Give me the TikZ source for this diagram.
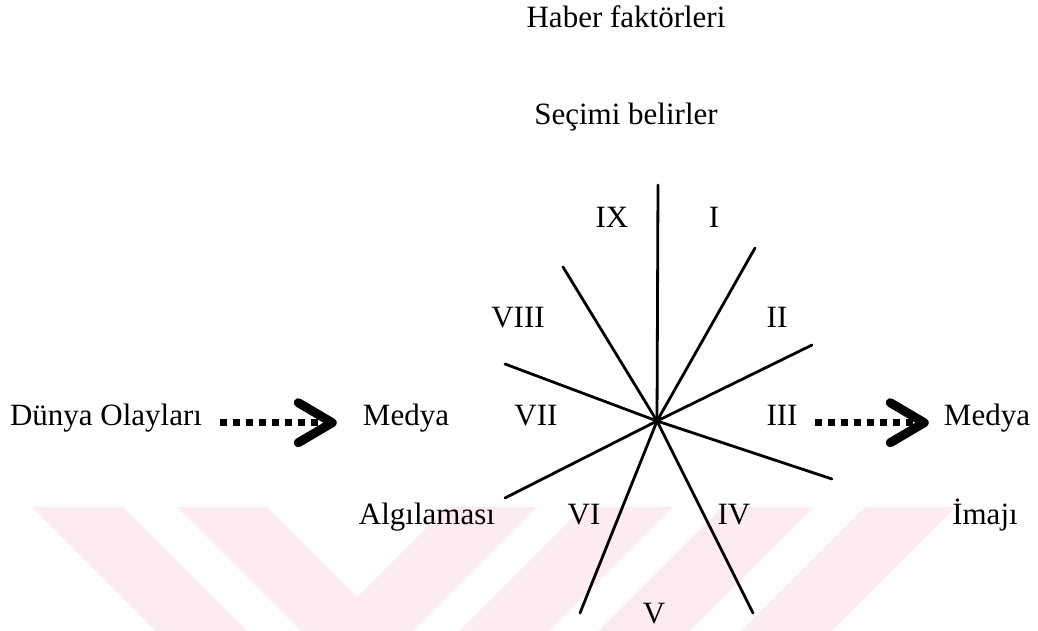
\documentclass[tikz,border=0pt]{standalone}
\usepackage{fontspec}
\setmainfont{Liberation Serif}
\usepackage{tikz}
\usetikzlibrary{arrows.meta}
\definecolor{wmpink}{RGB}{252,236,240}

\begin{document}
\begin{tikzpicture}[x=1pt, y=-1pt,
	lbl/.style={anchor=base, inner sep=0pt, font=\fontsize{31}{36}\selectfont},
	spoke/.style={line width=2.8pt, line cap=round},
	dots/.style={line width=7pt, dash pattern=on 7pt off 6pt,
		-{Straight Barb[length=34pt, width=40pt, line width=9pt, round]}}]
	\useasboundingbox (0,0) rectangle (1038,631);
	% pale stripes at the foot of the page
	\fill[wmpink] (32,507) -- (123,507) -- (247,631) -- (156,631) -- cycle;
	\fill[wmpink] (177,507) -- (267,507) -- (357,597) -- (447,507) -- (537,507) -- (413,631) -- (301,631) -- cycle;
	\fill[wmpink] (583,507) -- (673,507) -- (549,631) -- (459,631) -- cycle;
	\fill[wmpink] (722,507) -- (814,507) -- (690,631) -- (598,631) -- cycle;
	\fill[wmpink] (865,507) -- (955,507) -- (831,631) -- (741,631) -- cycle;

	% headings
	\node[lbl] (haber) at (626,28) {Haber faktörleri};
	\node[lbl] (secim) at (626,125) {Seçimi belirler};

	% the star of selection lines
	\coordinate (c) at (657,421);
	\coordinate (s1) at (658,185);
	\coordinate (s2) at (755,248);
	\coordinate (s3) at (812,345);
	\coordinate (s4) at (832,479);
	\coordinate (s5) at (753,613);
	\coordinate (s6) at (580,613);
	\coordinate (s7) at (505,498);
	\coordinate (s8) at (505,364);
	\coordinate (s9) at (563,267);
	\foreach \e in {s1,s2,s3,s4,s5,s6,s7,s8,s9}
		\draw[spoke] (c) -- (\e);

	% sector numbers
	\node[lbl] (nI) at (714,227) {I};
	\node[lbl] (nII) at (777,327) {II};
	\node[lbl] (nIII) at (782,425) {III};
	\node[lbl] (nIV) at (734,524) {IV};
	\node[lbl] (nV) at (654,623) {V};
	\node[lbl] (nVI) at (584,524) {VI};
	\node[lbl] (nVII) at (536,425) {VII};
	\node[lbl] (nVIII) at (518,327) {VIII};
	\node[lbl] (nIX) at (612,227) {IX};

	% events, media and image
	\node[lbl] (dunya) at (106,425) {Dünya Olayları};
	\node[lbl] (medyaA) at (406,425) {Medya};
	\node[lbl] (algi) at (427,524) {Algılaması};
	\node[lbl] (medyaB) at (987,425) {Medya};
	\node[lbl] (imaj) at (985,524) {İmajı};

	\draw[dots, shorten <=18pt, shorten >=26pt] (dunya.mid east) -- (medyaA.mid west);
	\draw[dots, shorten <=17pt, shorten >=15pt] (nIII.mid east) -- (medyaB.mid west);
\end{tikzpicture}
\end{document}
